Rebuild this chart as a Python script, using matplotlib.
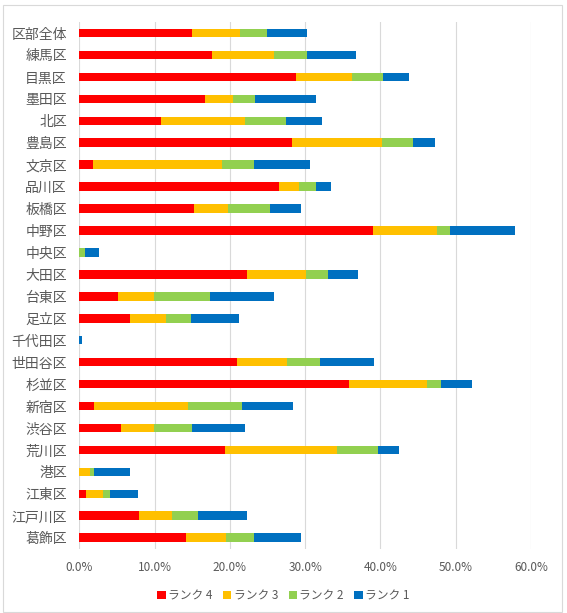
import matplotlib
matplotlib.use("Agg")
from matplotlib import pyplot as plt
import matplotlib.ticker as ticker
from matplotlib.patches import Rectangle
import numpy

plt.rcParams['font.family'] = ['Noto Sans CJK JP', 'DejaVu Sans']

wards = ["区部全体", "練馬区", "目黒区", "墨田区", "北区", "豊島区", "文京区", "品川区",
         "板橋区", "中野区", "中央区", "大田区", "台東区", "足立区", "千代田区", "世田谷区",
         "杉並区", "新宿区", "渋谷区", "荒川区", "港区", "江東区", "江戸川区", "葛飾区"]

rank4 = [15.0, 17.6, 28.8, 16.7, 10.8, 28.3, 1.8, 26.5,
         15.2, 39.0, 0.0, 22.3, 5.1, 6.75, 0.0, 20.9,
         35.8, 2.0, 5.5, 19.3, 0.0, 0.9, 7.9, 14.2]
rank3 = [6.4, 8.2, 7.4, 3.7, 11.2, 11.9, 17.2, 2.7,
         4.6, 8.5, 0.0, 7.8, 4.8, 4.8, 0.0, 6.7,
         10.4, 12.5, 4.4, 14.9, 1.45, 2.2, 4.4, 5.3]
rank2 = [3.5, 4.4, 4.2, 2.9, 5.5, 4.1, 4.2, 2.3,
         5.5, 1.8, 0.7, 3.0, 7.5, 3.3, 0.0, 4.4,
         1.9, 7.1, 5.1, 5.5, 0.45, 1.0, 3.5, 3.7]
rank1 = [5.4, 6.6, 3.4, 8.1, 4.7, 2.9, 7.5, 1.9,
         4.2, 8.6, 1.9, 3.9, 8.5, 6.4, 0.3, 7.1,
         4.1, 6.8, 7.0, 2.8, 4.8, 3.7, 6.5, 6.3]

series = [("ランク 4", rank4, "#FF0000"),
          ("ランク 3", rank3, "#FFC000"),
          ("ランク 2", rank2, "#92D050"),
          ("ランク 1", rank1, "#0070C0")]

fig = plt.figure(figsize=(5.67, 6.13), dpi=100)
ax = fig.add_axes([0.140, 0.105, 0.7963, 0.859])

y = numpy.arange(len(wards))
left = numpy.zeros(len(wards))
for name, vals, col in series:
    v = numpy.array(vals) / 100
    ax.barh(y, v, left=left, height=0.39, color=col, label=name, zorder=3)
    left = left + v

ax.set_ylim(len(wards) - 0.5, -0.5)
ax.set_xlim(0, 0.6)
ax.set_yticks(y)
ax.set_yticklabels(wards, fontsize=10, color="#595959")
ax.xaxis.set_major_locator(ticker.MultipleLocator(0.1))
ax.xaxis.set_major_formatter(ticker.FuncFormatter(lambda x, p: f"{x*100:.1f}%"))
ax.tick_params(axis='x', labelsize=8.5, labelcolor="#595959", length=0, pad=9)
ax.tick_params(axis='y', length=0, pad=9)
ax.grid(axis='x', color="#D9D9D9", linewidth=0.8, zorder=0)
for s in ax.spines.values():
    s.set_visible(False)

fig.legend(loc="center", bbox_to_anchor=(0.5, 0.028), ncol=4, frameon=False,
           fontsize=8.5, labelcolor="#595959", handlelength=0.7, handleheight=0.7,
           handletextpad=0.2, columnspacing=0.9)

fig.patches.append(Rectangle((0.006, 0.002), 0.985, 0.99, transform=fig.transFigure,
                             fill=False, edgecolor="#D9D9D9", linewidth=0.8))

fig.savefig("out.png", dpi=100)
